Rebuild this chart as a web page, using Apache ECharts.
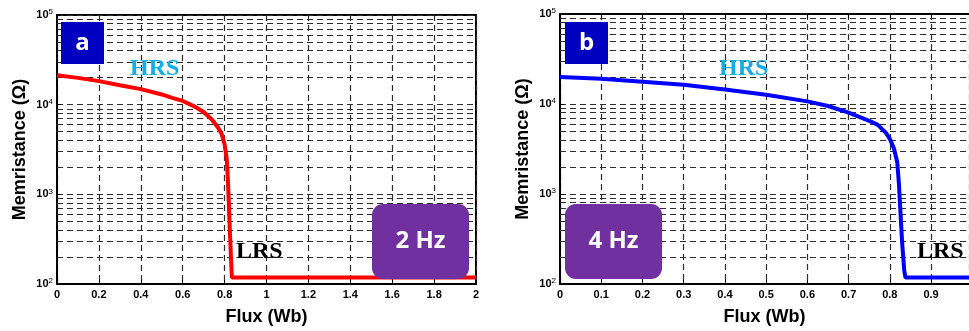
<!DOCTYPE html>
<html>
<head>
<meta charset="utf-8">
<script src="https://cdn.jsdelivr.net/npm/echarts@6/dist/echarts.min.js"></script>
<style>
  html, body { margin: 0; padding: 0; background: #fff; }
  #chart { width: 969px; height: 331px; }
</style>
</head>
<body>
<div id="chart"></div>
<script>
// panel a : 2 Hz
var fluxA = [0, 0.1, 0.2, 0.3, 0.4, 0.5, 0.55, 0.6, 0.65, 0.7, 0.74, 0.77, 0.786, 0.8, 0.81, 0.815, 0.82, 0.826, 0.832, 0.835, 1.0, 2.0];
var resA  = [21300, 19900, 18300, 16500, 14900, 13000, 11900, 11000, 9700, 8300, 6800, 5500, 4700, 3600, 2500, 1600, 800, 350, 160, 118, 118, 118];
// panel b : 4 Hz
var fluxB = [0, 0.1, 0.2, 0.3, 0.4, 0.5, 0.6, 0.65, 0.7, 0.75, 0.77, 0.79, 0.8, 0.81, 0.818, 0.822, 0.826, 0.83, 0.835, 0.838, 1.0];
var resB  = [20000, 19100, 17700, 16400, 14500, 12700, 10700, 9500, 8000, 6500, 5900, 4800, 4100, 3200, 2250, 1300, 600, 280, 140, 118, 118];

// panel b is cut by the picture edge a little before flux = 1
var xMaxA = 2, xStepA = 0.2;
var xMaxB = 0.992, xStepB = 0.1;
// minor log grid lines 2..9 x 10^n
var minorY = [200, 300, 400, 500, 600, 700, 800, 900,
              2000, 3000, 4000, 5000, 6000, 7000, 8000, 9000,
              20000, 30000, 40000, 50000, 60000, 70000, 80000, 90000];

var gridDash = { color: '#2e2e2e', width: 1.2, type: [6, 4] };
var labelFont = 'Liberation Sans';

function toXY(xs, ys) {
	var out = [];
	for (var i = 0; i < xs.length; i++) {
		out.push([xs[i], ys[i]]);
	}
	return out;
}

function makeX(idx, max, step) {
	return {
		type: 'value', gridIndex: idx, min: 0, max: max, interval: step,
		name: 'Flux (Wb)', nameLocation: 'middle', nameGap: 24,
		nameTextStyle: { fontFamily: labelFont, fontWeight: 'bold', fontSize: 18, color: '#000' },
		axisLine: { show: true, lineStyle: { color: '#000', width: 2 } },
		axisTick: { show: true, inside: true, length: 4, lineStyle: { color: '#000' } },
		axisLabel: {
			fontFamily: labelFont, fontWeight: 'bold', fontSize: 11, color: '#000', margin: 5,
			showMaxLabel: max === 2,
			formatter: function (v) { return String(+v.toFixed(1)); }
		},
		splitLine: { show: true, lineStyle: gridDash }
	};
}

// plain top frame line for panel b (its right side is off the picture)
function topX(idx, max, step) {
	return {
		type: 'value', gridIndex: idx, min: 0, max: max, interval: step, position: 'top',
		axisLine: { show: true, lineStyle: { color: '#000', width: 2 } },
		axisTick: { show: true, inside: true, length: 4, lineStyle: { color: '#000' } },
		axisLabel: { show: false },
		splitLine: { show: false }
	};
}

function makeY(idx) {
	return {
		type: 'log', gridIndex: idx, logBase: 10, min: 100, max: 100000,
		name: 'Memristance (Ω)', nameLocation: 'middle', nameGap: 28,
		nameTextStyle: { fontFamily: labelFont, fontWeight: 'bold', fontSize: 18, color: '#000' },
		axisLine: { show: true, lineStyle: { color: '#000', width: 2 } },
		axisTick: { show: true, inside: true, length: 4, lineStyle: { color: '#000' } },
		axisLabel: {
			margin: 4,
			formatter: function (v) {
				return '{b|10}{s|' + Math.round(Math.log(v) / Math.LN10) + '}';
			},
			rich: {
				b: { fontFamily: labelFont, fontWeight: 'bold', fontSize: 11, color: '#000' },
				s: { fontFamily: labelFont, fontSize: 8, color: '#000', verticalAlign: 'top', padding: [0, 0, 6, 0] }
			}
		},
		splitLine: { show: true, lineStyle: gridDash }
	};
}

function minorSeries(idx) {
	var lines = [];
	minorY.forEach(function (v) { lines.push({ yAxis: v }); });
	return {
		type: 'line', xAxisIndex: idx, yAxisIndex: idx, data: [], z: 1, silent: true,
		markLine: {
			silent: true, symbol: 'none', label: { show: false },
			lineStyle: gridDash, animation: false,
			data: lines
		}
	};
}

function box(x, y, w, h, r, fill, text, size) {
	return {
		type: 'group', left: x, top: y,
		children: [
			{ type: 'rect', shape: { x: 0, y: 0, width: w, height: h, r: r }, style: { fill: fill }, z: 10 },
			{ type: 'text', x: w / 2, y: h / 2, z: 11,
			  style: { text: text, fill: '#fff', font: 'bold ' + size + 'px "Open Sans"', align: 'center', verticalAlign: 'middle' } }
		]
	};
}

function tag(x, y, text, color) {
	return {
		type: 'text', left: x, top: y, z: 11,
		style: { text: text, fill: color, font: 'bold 24px "Liberation Serif"' }
	};
}

var chart = echarts.init(document.getElementById('chart'), null, { renderer: 'canvas' });
var option = {
	animation: false,
	backgroundColor: '#fff',
	grid: [
		{ left: 57, top: 15, width: 419, height: 273, show: true, borderColor: '#000', borderWidth: 2, backgroundColor: 'transparent' },
		{ left: 560, top: 14, right: 0, height: 271 }
	],
	xAxis: [makeX(0, xMaxA, xStepA), makeX(1, xMaxB, xStepB), topX(1, xMaxB, xStepB)],
	yAxis: [makeY(0), makeY(1)],
	series: [
		minorSeries(0),
		minorSeries(1),
		{
			type: 'line', xAxisIndex: 0, yAxisIndex: 0, z: 5,
			data: toXY(fluxA, resA), showSymbol: false, smooth: false,
			lineStyle: { color: '#ff0000', width: 4 }
		},
		{
			type: 'line', xAxisIndex: 1, yAxisIndex: 1, z: 5,
			data: toXY(fluxB, resB), showSymbol: false, smooth: false,
			lineStyle: { color: '#0000ff', width: 4 }
		}
	],
	graphic: [
		box(61, 22, 43, 42, 0, '#0000c0', 'a', 24),
		box(565, 22, 43, 42, 0, '#0000c0', 'b', 24),
		box(372, 204, 97, 75, 11, '#7030a0', '2 Hz', 24),
		box(565, 204, 97, 75, 11, '#7030a0', '4 Hz', 24),
		tag(130, 57, 'HRS', '#12aee8'),
		tag(719, 57, 'HRS', '#12aee8'),
		tag(236, 240, 'LRS', '#000'),
		tag(917, 240, 'LRS', '#000')
	]
};
chart.setOption(option);
</script>
</body>
</html>
